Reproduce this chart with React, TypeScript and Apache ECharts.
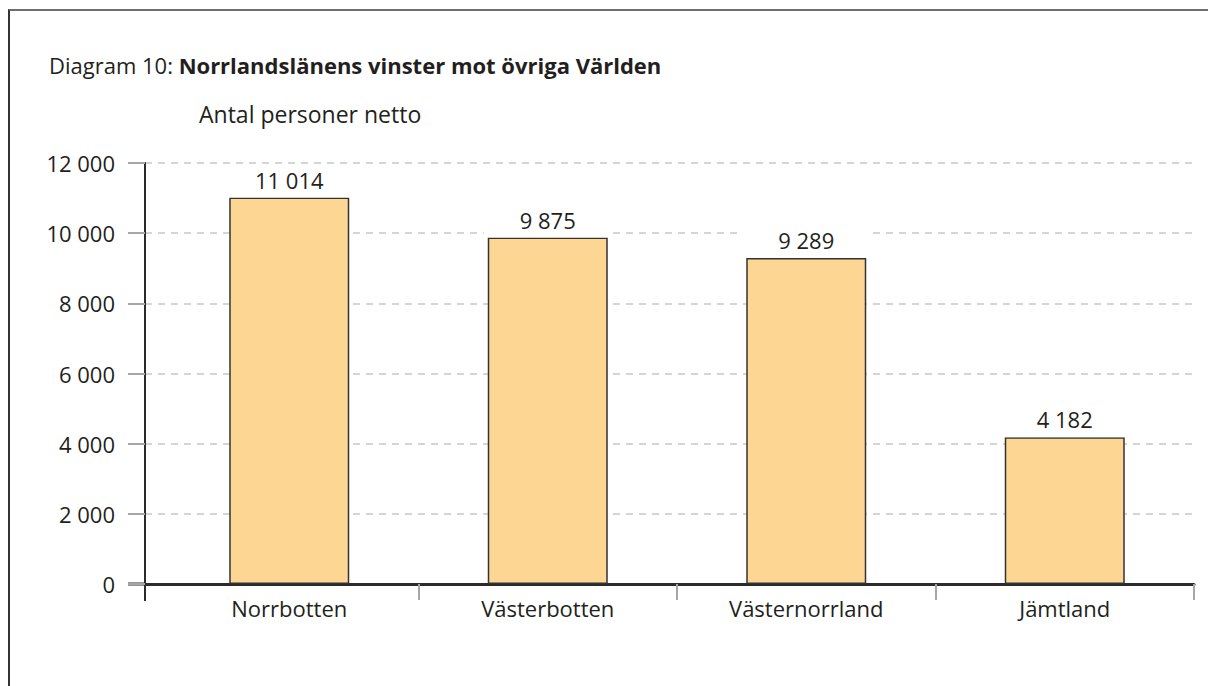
import React, { useEffect, useRef } from "react";
import * as echarts from "echarts";

const categories = ["Norrbotten", "Västerbotten", "Västernorrland", "Jämtland"];
const values = [11014, 9875, 9289, 4182];
const yMin = 0;
const yMax = 12000;
const yInterval = 2000;
const titlePrefix = "Diagram 10: ";
const titleMain = "Norrlandslänens vinster mot övriga Världen";
const unitLabel = "Antal personer netto";

const FONT = "'Open Sans', 'Noto Sans', sans-serif";
const TEXT = "#231f20";

const fmt = (v: number) => String(v).replace(/\B(?=(\d{3})+(?!\d))/g, " ");

export default function App() {
  const ref = useRef<HTMLDivElement>(null);
  useEffect(() => {
    document.body.style.margin = "0";
    const chart = echarts.init(ref.current!, null, { renderer: "svg" });
    const top = 163;
    const height = 421;
    chart.setOption({
      animation: false,
      backgroundColor: "#fff",
      textStyle: { fontFamily: FONT, color: TEXT },
      title: [
        {
          text: `{a|${titlePrefix}}{b|${titleMain}}`,
          left: 44,
          top: 49,
          textStyle: {
            fontWeight: "normal",
            rich: {
              a: { fontFamily: FONT, fontSize: 22, fontWeight: "normal", color: TEXT },
              b: { fontFamily: FONT, fontSize: 22, fontWeight: "bold", color: TEXT },
            },
          },
        },
        {
          text: unitLabel,
          left: 194,
          top: 97,
          textStyle: { fontFamily: FONT, fontSize: 23, fontWeight: "normal", color: TEXT },
        },
      ],
      grid: [
        { left: 145, top, width: 1049, height },
        { left: 160, top, width: 1034, height },
      ],
      xAxis: [
        {
          gridIndex: 0,
          type: "category",
          data: categories,
          axisLine: { show: true, lineStyle: { color: "#2b2b2b", width: 3 } },
          axisTick: { show: false },
          axisLabel: { show: false },
          splitLine: { show: false },
        },
        {
          gridIndex: 1,
          type: "category",
          data: categories,
          axisLine: { show: false },
          axisTick: {
            show: true,
            length: 16,
            interval: (index: number) => index > 0,
            lineStyle: { color: "#a6a6a6", width: 2 },
          },
          axisLabel: { margin: 13, fontSize: 22, fontFamily: FONT, color: TEXT },
        },
      ],
      yAxis: [
        {
          gridIndex: 0,
          type: "value",
          min: yMin,
          max: yMax,
          interval: yInterval,
          axisLine: { show: true, lineStyle: { color: "#2b2b2b", width: 2 } },
          axisTick: { show: true, length: 17, lineStyle: { color: "#a6a6a6", width: 2 } },
          axisLabel: { margin: 30, fontSize: 22, fontFamily: FONT, color: TEXT, formatter: (v: number) => fmt(v) },
          splitLine: { show: true, lineStyle: { color: "#c8c8c8", width: 1.5, type: [7, 6] } },
        },
        {
          gridIndex: 1,
          type: "value",
          min: yMin,
          max: yMax,
          interval: yInterval,
          show: false,
          splitLine: { show: false },
        },
      ],
      series: [
        {
          type: "bar",
          xAxisIndex: 1,
          yAxisIndex: 1,
          data: values,
          barWidth: 120,
          itemStyle: { color: "#fdd694", borderColor: "#333", borderWidth: 1.5 },
          label: {
            show: true,
            position: "top",
            distance: 0,
            formatter: (p: any) => fmt(p.value),
            fontSize: 22,
            fontFamily: FONT,
            color: TEXT,
            backgroundColor: "#fff",
            padding: [0, 36, 7, 36],
          },
        },
      ],
      graphic: [
        { type: "line", shape: { x1: 128, y1: 584, x2: 145, y2: 584 }, style: { stroke: "#2b2b2b", lineWidth: 3 } },
        { type: "line", shape: { x1: 145, y1: 584, x2: 145, y2: 601 }, style: { stroke: "#2b2b2b", lineWidth: 2 } },
      ],
    });
    return () => chart.dispose();
  }, []);
  return (
    <div style={{ position: "absolute", left: 0, top: 0, width: 1208, height: 686, overflow: "hidden", background: "#fff" }}>
      <div ref={ref} style={{ position: "absolute", left: 0, top: 0, width: 1208, height: 686 }} />
      <div
        style={{
          position: "absolute",
          left: 8,
          top: 9,
          width: 1220,
          height: 700,
          borderTop: "2px solid #6e6e6e",
          borderLeft: "2px solid #333",
          boxSizing: "border-box",
          pointerEvents: "none",
        }}
      />
    </div>
  );
}
